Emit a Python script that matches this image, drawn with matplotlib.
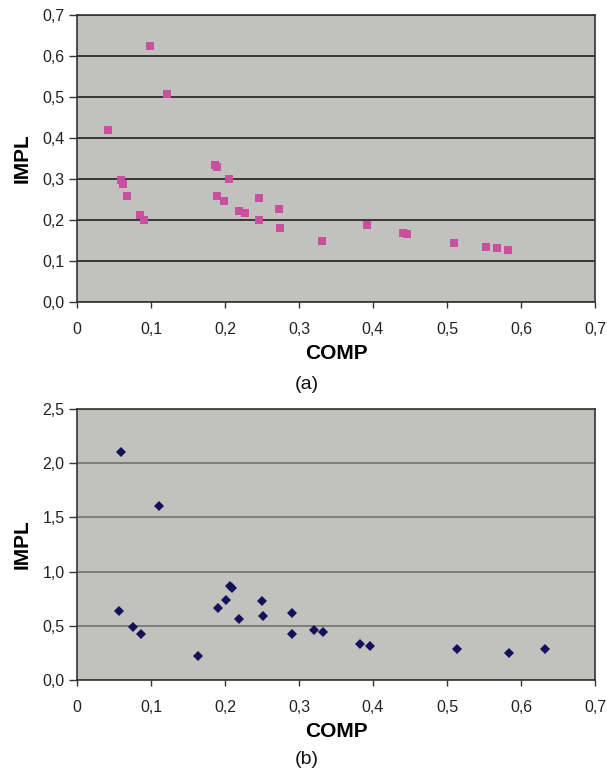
import matplotlib.pyplot as plt
from matplotlib.ticker import FuncFormatter

plt.rcParams['font.family'] = ['Liberation Sans', 'DejaVu Sans']

# (a) COMP vs IMPL
comp_a = [0.042, 0.099, 0.121, 0.060, 0.062, 0.068, 0.085, 0.091, 0.186, 0.189,
          0.189, 0.199, 0.206, 0.219, 0.227, 0.246, 0.246, 0.273, 0.274, 0.331,
          0.392, 0.440, 0.446, 0.510, 0.553, 0.567, 0.583]
impl_a = [0.420, 0.625, 0.507, 0.298, 0.287, 0.259, 0.212, 0.200, 0.334, 0.330,
          0.259, 0.247, 0.300, 0.222, 0.216, 0.253, 0.200, 0.228, 0.181, 0.150,
          0.187, 0.169, 0.165, 0.143, 0.134, 0.132, 0.128]

# (b) COMP vs IMPL
comp_b = [0.059, 0.111, 0.057, 0.075, 0.086, 0.164, 0.190, 0.202, 0.207, 0.210,
          0.219, 0.250, 0.251, 0.291, 0.291, 0.320, 0.333, 0.383, 0.396, 0.513,
          0.584, 0.632]
impl_b = [2.106, 1.605, 0.639, 0.486, 0.424, 0.221, 0.664, 0.738, 0.867, 0.852,
          0.566, 0.725, 0.593, 0.615, 0.424, 0.461, 0.446, 0.329, 0.317, 0.283,
          0.246, 0.283]

x_ticks = [0, 0.1, 0.2, 0.3, 0.4, 0.5, 0.6, 0.7]
y_ticks_a = [0, 0.1, 0.2, 0.3, 0.4, 0.5, 0.6, 0.7]
y_ticks_b = [0, 0.5, 1.0, 1.5, 2.0, 2.5]


def xfmt(v, pos):
    return '0' if abs(v) < 1e-9 else ('%.1f' % v).replace('.', ',')


def yfmt(v, pos):
    return ('%.1f' % v).replace('.', ',')


fig = plt.figure(figsize=(6.07, 7.74), dpi=100)
ax1 = fig.add_axes([77 / 607, 1 - 302 / 774, 518 / 607, 287 / 774])
ax2 = fig.add_axes([77 / 607, 1 - 680 / 774, 518 / 607, 271 / 774])

panels = [
    (ax1, comp_a, impl_a, y_ticks_a, 's', '#C9509F', 6.3, '#111111', '(a)', 385),
    (ax2, comp_b, impl_b, y_ticks_b, 'D', '#14105A', 5.5, '#6A6A6A', '(b)', 760),
]

for ax, xs, ys, yt, mk, col, ms, gcol, cap, cap_y in panels:
    ax.set_facecolor('#C1C1BD')
    ax.plot(xs, ys, linestyle='none', marker=mk, color=col, markersize=ms,
            markeredgewidth=0, zorder=3)
    ax.set_xlim(0, 0.7)
    ax.set_ylim(yt[0], yt[-1])
    ax.set_xticks(x_ticks)
    ax.set_yticks(yt)
    ax.xaxis.set_major_formatter(FuncFormatter(xfmt))
    ax.yaxis.set_major_formatter(FuncFormatter(yfmt))
    ax.grid(axis='y', color=gcol, linewidth=1.1)
    ax.set_axisbelow(True)
    for s in ax.spines.values():
        s.set_color('#333333')
        s.set_linewidth(1.2)
    ax.tick_params(direction='out', width=1, colors='#333333',
                   labelsize=11.5, labelcolor='#222222')
    ax.tick_params(axis='y', length=6, pad=3)
    ax.tick_params(axis='x', length=4.5, pad=10)
    ax.set_xlabel('COMP', fontsize=15, fontweight='bold', labelpad=5)
    ax.set_ylabel('IMPL', fontsize=15, fontweight='bold', labelpad=8)
    fig.text(307 / 607, 1 - cap_y / 774, cap, fontsize=14,
             ha='center', va='center', color='#111111')

fig.savefig('out.png', dpi=100, facecolor='white')
